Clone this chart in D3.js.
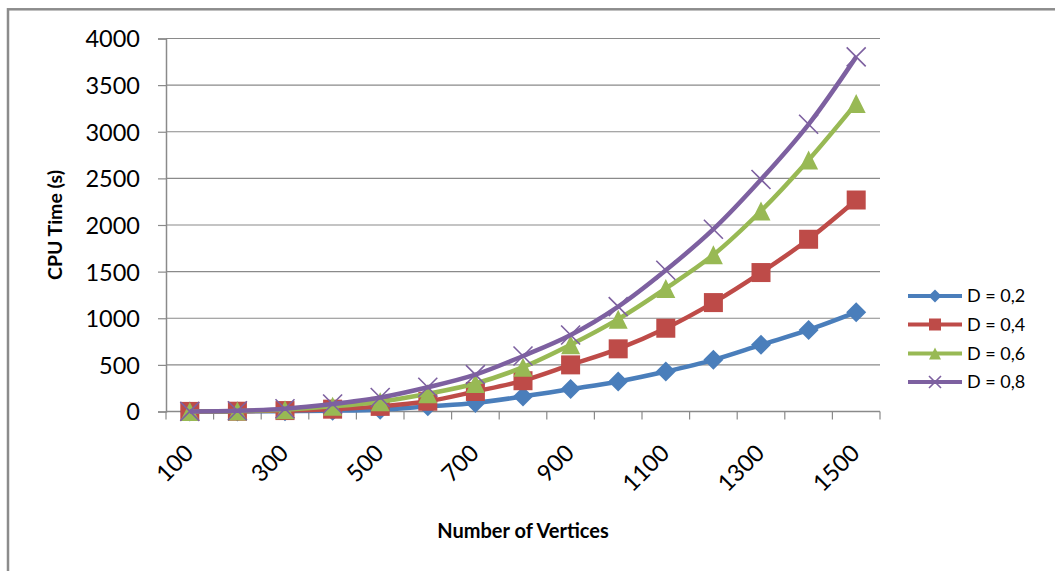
<!DOCTYPE html>
<html>
<head>
<meta charset="utf-8">
<script src="https://cdn.jsdelivr.net/npm/d3@7"></script>
<style>
  body { margin: 0; background: #fff; }
  text { font-family: Lato, "Open Sans", sans-serif; fill: #000; }
</style>
</head>
<body>
<script>
// data
const vertices = [100, 200, 300, 400, 500, 600, 700, 800, 900, 1000, 1100, 1200, 1300, 1400, 1500];
const d02 = [0, 1, 3, 8, 20, 55, 92, 161, 240, 322, 429, 554, 715, 875, 1065];
const d04 = [1, 3, 10, 25, 55, 110, 215, 330, 500, 672, 893, 1168, 1490, 1847, 2268];
const d06 = [1, 5, 20, 55, 105, 190, 300, 475, 715, 990, 1320, 1680, 2150, 2697, 3304];
const d08 = [1, 8, 30, 80, 150, 260, 395, 595, 820, 1125, 1515, 1955, 2488, 3080, 3803];
const seriesNames = ["D = 0,2", "D = 0,4", "D = 0,6", "D = 0,8"];
const yTicks = [0, 500, 1000, 1500, 2000, 2500, 3000, 3500, 4000];
const xLabels = [100, 300, 500, 700, 900, 1100, 1300, 1500];

const colors = ["#4a7ebb", "#be4b48", "#98b954", "#7d60a0"];
const shapes = ["diamond", "square", "triangle", "cross"];

const width = 1055, height = 571;
const svg = d3.select("body").append("svg")
    .attr("width", width)
    .attr("height", height);

// outer chart frame
svg.append("rect")
    .attr("x", 8).attr("y", 9.3)
    .attr("width", 1200).attr("height", 700)
    .attr("fill", "none")
    .attr("stroke", "#8c8c8c")
    .attr("stroke-width", 2.5);

const x = d3.scaleBand().domain(vertices).range([166, 880]);
const y = d3.scaleLinear().domain([0, 4000]).range([411.5, 38.5]);
const cx = v => x(v) + x.bandwidth() / 2;

// gridlines
svg.append("g").selectAll("line")
    .data(yTicks.filter(t => t > 0))
    .enter().append("line")
    .attr("x1", 166).attr("x2", 880)
    .attr("y1", d => y(d)).attr("y2", d => y(d))
    .attr("stroke", "#8a8a8a").attr("stroke-width", 1.2);

// y axis
let yAxis = svg.append("g")
    .attr("transform", "translate(166,0)")
    .call(d3.axisLeft(y).tickValues(yTicks).tickFormat(d3.format("d")).tickSize(8).tickPadding(18));
yAxis.select(".domain").attr("stroke", "#8a8a8a").attr("stroke-width", 1.5);
yAxis.selectAll(".tick line").attr("stroke", "#8a8a8a").attr("stroke-width", 1.2);
yAxis.selectAll(".tick text")
    .style("font-size", "23.5px")
    .attr("fill", "#000")
    .attr("dy", "0.36em");

// x axis
svg.append("line")
    .attr("x1", 166).attr("x2", 880)
    .attr("y1", y(0)).attr("y2", y(0))
    .attr("stroke", "#8a8a8a").attr("stroke-width", 1.5);
svg.append("g").selectAll("line")
    .data(vertices.map(v => x(v)).concat([880]))
    .enter().append("line")
    .attr("x1", d => d).attr("x2", d => d)
    .attr("y1", y(0)).attr("y2", y(0) + 8)
    .attr("stroke", "#8a8a8a").attr("stroke-width", 1.2);
svg.append("g").selectAll("text")
    .data(xLabels)
    .enter().append("text")
    .attr("transform", d => `translate(${cx(d) + 5},${y(0) + 43}) rotate(-45)`)
    .attr("text-anchor", "end")
    .style("font-size", "23.5px")
    .text(d => d);

// axis titles
svg.append("text")
    .attr("transform", "translate(62,225) rotate(-90)")
    .attr("text-anchor", "middle")
    .attr("textLength", 110)
    .attr("lengthAdjust", "spacingAndGlyphs")
    .style("font-size", "19.5px")
    .style("font-weight", "bold")
    .text("CPU Time (s)");
svg.append("text")
    .attr("x", 523).attr("y", 538)
    .attr("text-anchor", "middle")
    .style("font-size", "20px")
    .style("font-weight", "bold")
    .text("Number of Vertices");

function drawMarker(g, shape, color, s) {
    if (shape == "diamond") {
        g.append("path").attr("d", `M0,${-s / 2}L${s / 2},0L0,${s / 2}L${-s / 2},0Z`).attr("fill", color);
    } else if (shape == "square") {
        let h = s * 0.5;
        g.append("rect").attr("x", -h).attr("y", -h).attr("width", 2 * h).attr("height", 2 * h).attr("fill", color);
    } else if (shape == "triangle") {
        let h = s * 0.5;
        g.append("path").attr("d", `M0,${-h}L${h},${h}L${-h},${h}Z`).attr("fill", color);
    } else {
        let h = s * 0.5;
        g.append("path").attr("d", `M${-h},${-h}L${h},${h}M${h},${-h}L${-h},${h}`)
            .attr("stroke", color).attr("stroke-width", 1.6).attr("fill", "none");
    }
}

const allSeries = [d02, d04, d06, d08];
const line = d3.line()
    .x((d, i) => cx(vertices[i]))
    .y(d => y(d))
    .curve(d3.curveCatmullRom.alpha(0.5));

allSeries.forEach((vals, k) => {
    svg.append("path")
        .datum(vals)
        .attr("d", line)
        .attr("fill", "none")
        .attr("stroke", colors[k])
        .attr("stroke-width", 4.5)
        .attr("stroke-linejoin", "round");
    vals.forEach((v, i) => {
        let g = svg.append("g").attr("transform", `translate(${cx(vertices[i])},${y(v)})`);
        drawMarker(g, shapes[k], colors[k], shapes[k] == "diamond" ? 20 : 19);
    });
});

// legend
const legendY = [296, 324.5, 353.5, 382];
seriesNames.forEach((name, k) => {
    svg.append("line")
        .attr("x1", 908).attr("x2", 962)
        .attr("y1", legendY[k]).attr("y2", legendY[k])
        .attr("stroke", colors[k]).attr("stroke-width", 4);
    let g = svg.append("g").attr("transform", `translate(935,${legendY[k]})`);
    drawMarker(g, shapes[k], colors[k], shapes[k] == "diamond" ? 13 : 12);
    svg.append("text")
        .attr("x", 967).attr("y", legendY[k])
        .attr("dy", "0.36em")
        .style("font-size", "18px")
        .text(name);
});
</script>
</body>
</html>
